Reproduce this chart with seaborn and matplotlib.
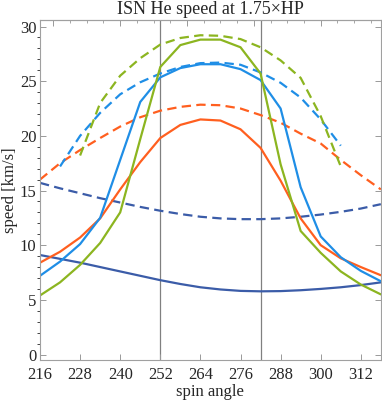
import pandas as pd
import numpy as np
import seaborn as sns
import matplotlib.pyplot as plt

angle = [216, 222, 228, 234, 240, 246, 252, 258, 264, 270, 276, 282, 288, 294, 300, 306, 312, 318]

# solid curves
dark_solid = [9.1, 8.75, 8.4, 8.0, 7.6, 7.2, 6.8, 6.45, 6.15, 5.95, 5.82, 5.78, 5.8, 5.88, 6.0, 6.15, 6.35, 6.6]
orange_solid = [8.4, 9.4, 10.7, 12.45, 15.1, 17.6, 19.8, 21.0, 21.5, 21.4, 20.6, 18.9, 15.9, 12.45, 10.0, 8.8, 8.0, 7.25]
blue_solid = [7.2, 8.5, 10.1, 12.5, 17.8, 23.1, 25.35, 26.2, 26.55, 26.55, 26.1, 25.1, 22.5, 15.3, 10.8, 8.9, 7.65, 6.7]
green_solid = [5.4, 6.6, 8.2, 10.2, 13.0, 19.7, 26.3, 28.3, 28.8, 28.8, 28.1, 25.7, 17.4, 11.3, 9.3, 7.6, 6.4, 5.5]

# dashed curves
dark_dashed = [15.7, 15.2, 14.75, 14.3, 13.9, 13.5, 13.15, 12.85, 12.6, 12.45, 12.38, 12.38, 12.45, 12.6, 12.8, 13.05, 13.35, 13.75]
orange_dashed = [16.0, 17.5, 18.7, 19.8, 20.85, 21.7, 22.3, 22.65, 22.85, 22.8, 22.5, 21.9, 21.2, 20.2, 19.3, 17.8, 16.4, 15.1]
angle_blue_d = [222, 228, 234, 240, 246, 252, 258, 264, 270, 276, 282, 288, 294, 300, 306]
blue_dashed = [17.2, 20.0, 22.1, 23.8, 24.9, 25.7, 26.3, 26.65, 26.7, 26.5, 25.8, 24.85, 23.5, 21.5, 19.1]
angle_green_d = [228, 234, 240, 246, 252, 258, 264, 270, 276, 282, 288, 294, 300, 306]
green_dashed = [18.2, 23.0, 25.5, 27.1, 28.35, 28.95, 29.2, 29.15, 28.85, 28.1, 26.9, 25.3, 21.8, 17.2]

marks = [252, 282]
xticks = [216, 228, 240, 252, 264, 276, 288, 300, 312]
yticks = [0, 5, 10, 15, 20, 25, 30]

sns.set_style('ticks')
plt.rcParams['font.family'] = ['Liberation Serif', 'DejaVu Serif']

fig = plt.figure(figsize=(3.82, 4.07), dpi=100)
ax = fig.add_axes([0.1047, 0.1155, 0.8923, 0.8355])

c_dark = '#3b5ca8'
c_orange = '#ff5f1f'
c_blue = '#1f8ee6'
c_green = '#8cb520'
lw = 1.6
dash = (0, (4.2, 2.4))

for xs, ys, col in [(angle, dark_dashed, c_dark), (angle, orange_dashed, c_orange),
                    (angle_blue_d, blue_dashed, c_blue), (angle_green_d, green_dashed, c_green)]:
    d = pd.DataFrame({'angle': xs, 'speed': ys})
    sns.lineplot(data=d, x='angle', y='speed', color=col, lw=lw, ax=ax, linestyle=dash)

for ys, col in [(dark_solid, c_dark), (orange_solid, c_orange), (blue_solid, c_blue), (green_solid, c_green)]:
    d = pd.DataFrame({'angle': angle, 'speed': ys})
    sns.lineplot(data=d, x='angle', y='speed', color=col, lw=lw, ax=ax)

for m in marks:
    ax.axvline(m, color='#808080', lw=0.9, zorder=0)

ax.set_xlim(216, 318)
ax.set_ylim(-0.5, 30.6)
ax.set_xticks(xticks)
ax.set_yticks(yticks)
ax.set_yticks(np.arange(0, 31, 1), minor=True)
ax.tick_params(axis='both', direction='in', color='#999999', labelsize=12)
ax.tick_params(axis='x', pad=5)
ax.tick_params(axis='y', pad=2.5)
ax.tick_params(which='major', length=4, width=0.7)
ax.tick_params(which='minor', length=2, width=0.6)
ax.tick_params(axis='y', which='both', right=True)
ax.tick_params(axis='x', which='minor', bottom=False)

top = ax.secondary_xaxis('top')
top.set_xticks(np.arange(220, 319, 20))
top.set_xticks(np.arange(220, 319, 5), minor=True)
top.tick_params(direction='in', color='#999999', labeltop=False, length=4, width=0.7)
top.tick_params(which='minor', direction='in', color='#999999', length=2, width=0.6)
top.spines['top'].set_color('#a0a0a0')

for s in ax.spines.values():
    s.set_color('#a0a0a0')
    s.set_linewidth(0.8)

ax.set_xlabel('spin angle', fontsize=12, labelpad=1)
ax.set_ylabel('speed [km/s]', fontsize=12, labelpad=1)
ax.set_title('ISN He speed at 1.75×HP', fontsize=13, pad=4)

fig.savefig('out.png', dpi=100)
